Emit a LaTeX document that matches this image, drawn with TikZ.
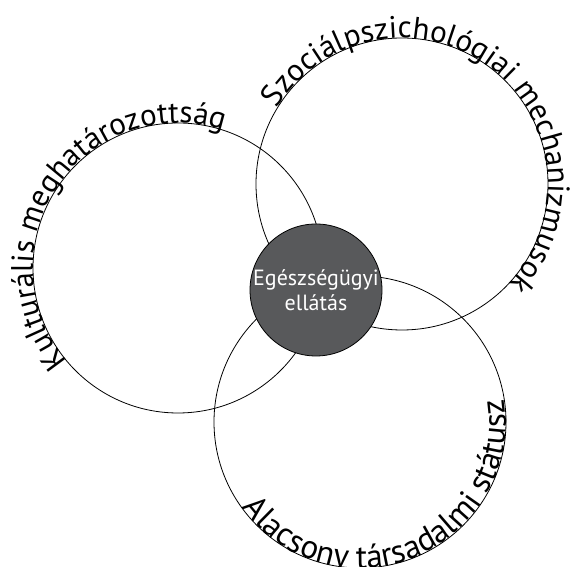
\documentclass[tikz,border=0pt]{standalone}
\usepackage{fontspec}
\setmainfont{PT Sans}
\usetikzlibrary{decorations.text}
\definecolor{hubgray}{RGB}{88,89,91}
\begin{document}
\begin{tikzpicture}[x=1pt,y=1pt,
  ring/.style={circle,draw=black,line width=0.8pt,inner sep=0pt,minimum size=#1},
  hub/.style={circle,draw=black,line width=0.8pt,fill=hubgray,inner sep=0pt,minimum size=132pt,
    text=white,align=center,font=\fontsize{22}{25}\selectfont}]
\useasboundingbox (0,0) rectangle (571,567);
% outer circles
\node[ring=290pt] (kult) at (178,299) {};
\node[ring=292pt] (szoc) at (402,383) {};
\node[ring=292pt] (stat) at (360,145) {};
% labels along the circles (centred on the arcs)
\path[decorate,decoration={text along path,text align=center,
  text={|\fontsize{31}{33}\selectfont|Kulturális meghatározottság}}]
  (kult.center) ++(236:145pt) arc[start angle=236,end angle=56,radius=145pt];
\path[decorate,decoration={text along path,text align=center,
  text={|\fontsize{31}{33}\selectfont|Szociálpszichológiai mechanizmusok}}]
  (szoc.center) ++(168:146pt) arc[start angle=168,end angle=-62,radius=146pt];
\path[decorate,decoration={text along path,text align=center,
  text={|\fontsize{33}{35}\selectfont|Alacsony társadalmi státusz}}]
  (stat.center) ++(182.5:146pt) arc[start angle=182.5,end angle=402.5,radius=146pt];
% hub
\node[hub] (hub) at (316,277) {Egészségügyi\\ellátás};
\end{tikzpicture}
\end{document}
